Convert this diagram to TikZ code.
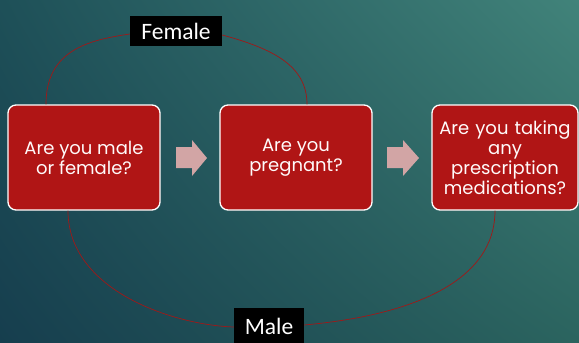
\documentclass[tikz,border=0pt]{standalone}
\usepackage{fontspec}
\usetikzlibrary{shadings}
\setmainfont{Poppins}
\newfontfamily\labelfont{Carlito}
\definecolor{boxred}{HTML}{B01515}
\definecolor{arrowpink}{HTML}{D2A5A5}
\definecolor{linered}{HTML}{A01818}
\definecolor{bgTL}{HTML}{1E5058}
\definecolor{bgTR}{HTML}{41837A}
\definecolor{bgBL}{HTML}{163E4E}
\definecolor{bgBR}{HTML}{2B645F}
\tikzset{
  qbox/.style={draw=white, line width=1.3pt, fill=boxred, rounded corners=8pt,
    text=white!92!pink, align=center, inner sep=0pt, font=\fontsize{18}{20}\selectfont},
  tag/.style={fill=black, text=white, inner sep=0pt, font=\labelfont\fontsize{23.5}{25}\selectfont},
  link/.style={draw=linered, line width=0.7pt},
  blockarrow/.style={fill=arrowpink, draw=none}
}
\begin{document}
\begin{tikzpicture}[x=1pt,y=-1pt]
\useasboundingbox (0,0) rectangle (579,343);
\shade[upper left=bgTL, upper right=bgTR, lower left=bgBL, lower right=bgBR] (0,0) rectangle (579,343);
% boxes
\node[qbox, minimum width=152pt, minimum height=105pt] (b1) at (84,157.5) {Are you male\\or female?};
\node[qbox, minimum width=152pt, minimum height=105pt] (b2) at (296,157.5) {Are you\\pregnant?};
\node[qbox, minimum width=146pt, minimum height=105pt, text width=146pt] (b3) at (505,157.5) {Are you taking\\any\\prescription\\medications?};
% labels
\node[tag, minimum width=92pt, minimum height=30pt] (fem) at (176,31) {Female};
\node[tag, minimum width=70pt, minimum height=36pt] (male) at (269,326) {Male};
% block arrows
\fill[blockarrow] (176,147) -- (192,147) -- (192,140) -- (207,158) -- (192,176) -- (192,168) -- (176,168) -- cycle;
\fill[blockarrow] (387,147) -- (403,147) -- (403,140) -- (419,158) -- (403,176) -- (403,168) -- (387,168) -- cycle;
% connectors
\coordinate (t1) at ([xshift=-38pt]b1.north);
\coordinate (t2) at ([xshift=11pt]b2.north);
\coordinate (u1) at ([xshift=-16pt]b1.south);
\coordinate (u3) at ([xshift=-10pt]b3.south);
\draw[link] (t1) .. controls +(0,-55) and +(-40,6) .. ([yshift=-3pt]fem.west);
\draw[link] ([yshift=-4pt]fem.east) .. controls +(52,14) and +(0,-38) .. (t2);
\draw[link] (u1) .. controls +(0,80) and +(-60,-2) .. ([yshift=-1pt]male.west);
\draw[link] ([yshift=1pt]male.east) .. controls +(110,-10) and +(0,70) .. (u3);
\end{tikzpicture}
\end{document}
